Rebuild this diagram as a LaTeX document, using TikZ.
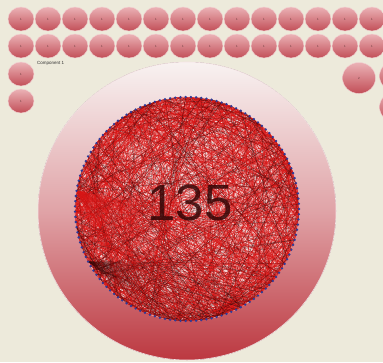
\documentclass[tikz,border=0pt]{standalone}
\usepackage{fontspec}
\setmainfont{Liberation Sans}
\usetikzlibrary{shapes.geometric}
\definecolor{paperBg}{HTML}{EDEADB}
\definecolor{bubbleTop}{HTML}{EBB2B6}
\definecolor{bubbleBot}{HTML}{C24E57}
\definecolor{ringTop}{HTML}{F8F2F1}
\definecolor{ringMid}{HTML}{E0A3A7}
\definecolor{ringBot}{HTML}{BC3840}
\definecolor{innerPink}{HTML}{F0D2D2}
\definecolor{edgeRed}{HTML}{D81515}
\definecolor{edgeDark}{HTML}{3A0808}
\definecolor{vtxBlue}{HTML}{2E3C9A}
\pgfdeclarelayer{bglayer}
\pgfdeclarelayer{edgelayer}
\pgfsetlayers{bglayer,edgelayer,main}

\begin{document}
\begin{tikzpicture}[
    x=1pt,y=-1pt,
    bubble/.style={ellipse,inner sep=0pt,minimum width=26pt,minimum height=24pt,
                   top color=bubbleTop,bottom color=bubbleBot,
                   draw=bubbleTop!60,line width=0.4pt,
                   font=\fontsize{3}{3}\selectfont,text=edgeDark!80},
    bigbubble/.style={bubble,minimum width=33pt,minimum height=31pt},
    vtx/.style={circle,fill=vtxBlue,inner sep=0pt,minimum size=2.6pt},
    redlink/.style={edgeRed,line width=0.35pt,opacity=0.75},
    darklink/.style={edgeDark,line width=0.25pt,opacity=0.55},
    complbl/.style={font=\fontsize{4.5}{5}\selectfont,text=black!80,inner sep=0pt},
    countlbl/.style={font=\fontsize{51}{51}\selectfont,text=edgeDark!90!black,opacity=0.85}
  ]
  \useasboundingbox (0,0) rectangle (383,362);
  \coordinate (ctr) at (187,209);
  \def\N{135}
  \begin{pgfonlayer}{bglayer}
    \fill[paperBg] (0,0) rectangle (383,362);
    % shaded ring around the component
    \fill[top color=ringTop,bottom color=ringBot,middle color=ringMid,
          draw=white!70!ringMid,line width=0.6pt] (187,211) circle (149pt);
    \fill[innerPink] (ctr) circle (112pt);
  \end{pgfonlayer}

  % single-node components, two rows
  \foreach \k in {0,...,13}{
    \node[bubble] (ra\k) at ({21+27*\k},19) {1};
    \node[bubble] (rb\k) at ({21+27*\k},46) {1};
  }
  \node[bubble] (ca) at (21,74)  {1};
  \node[bubble] (cb) at (21,101) {1};
  \node[bigbubble] (big2) at (359,78) {2};
  \node[bigbubble] (edgea) at (396,76)  {};
  \node[bigbubble] (edgeb) at (396,107) {};
  \node[complbl,anchor=west] (comp1) at (37,63) {Component 1};

  % vertices on the circle
  \foreach \i in {1,...,\N}{
    \pgfmathsetmacro{\ang}{(\i-1)*(360/\N)}
    \path (ctr) ++(\ang:112) node[vtx] (v\i) {};
  }

  % edges
  \pgfmathsetseed{4242}
  \begin{pgfonlayer}{edgelayer}
    \foreach \k in {1,...,950}{
      \pgfmathtruncatemacro{\ea}{random(1,\N)}
      \pgfmathtruncatemacro{\eb}{random(1,\N)}
      \draw[redlink] (v\ea.center) -- (v\eb.center);
    }
    \foreach \k in {1,...,220}{
      \pgfmathtruncatemacro{\ea}{random(1,\N)}
      \pgfmathtruncatemacro{\eb}{random(1,\N)}
      \draw[darklink] (v\ea.center) -- (v\eb.center);
    }
    % two hubs fanning to the lower right
    \foreach \j in {6,...,46}{
      \draw[redlink] (v72.center) -- (v\j.center);
    }
    \foreach \j in {12,...,40}{
      \draw[darklink] (v58.center) -- (v\j.center);
    }
  \end{pgfonlayer}

  \node[countlbl] (count) at (190,203) {135};
\end{tikzpicture}
\end{document}
